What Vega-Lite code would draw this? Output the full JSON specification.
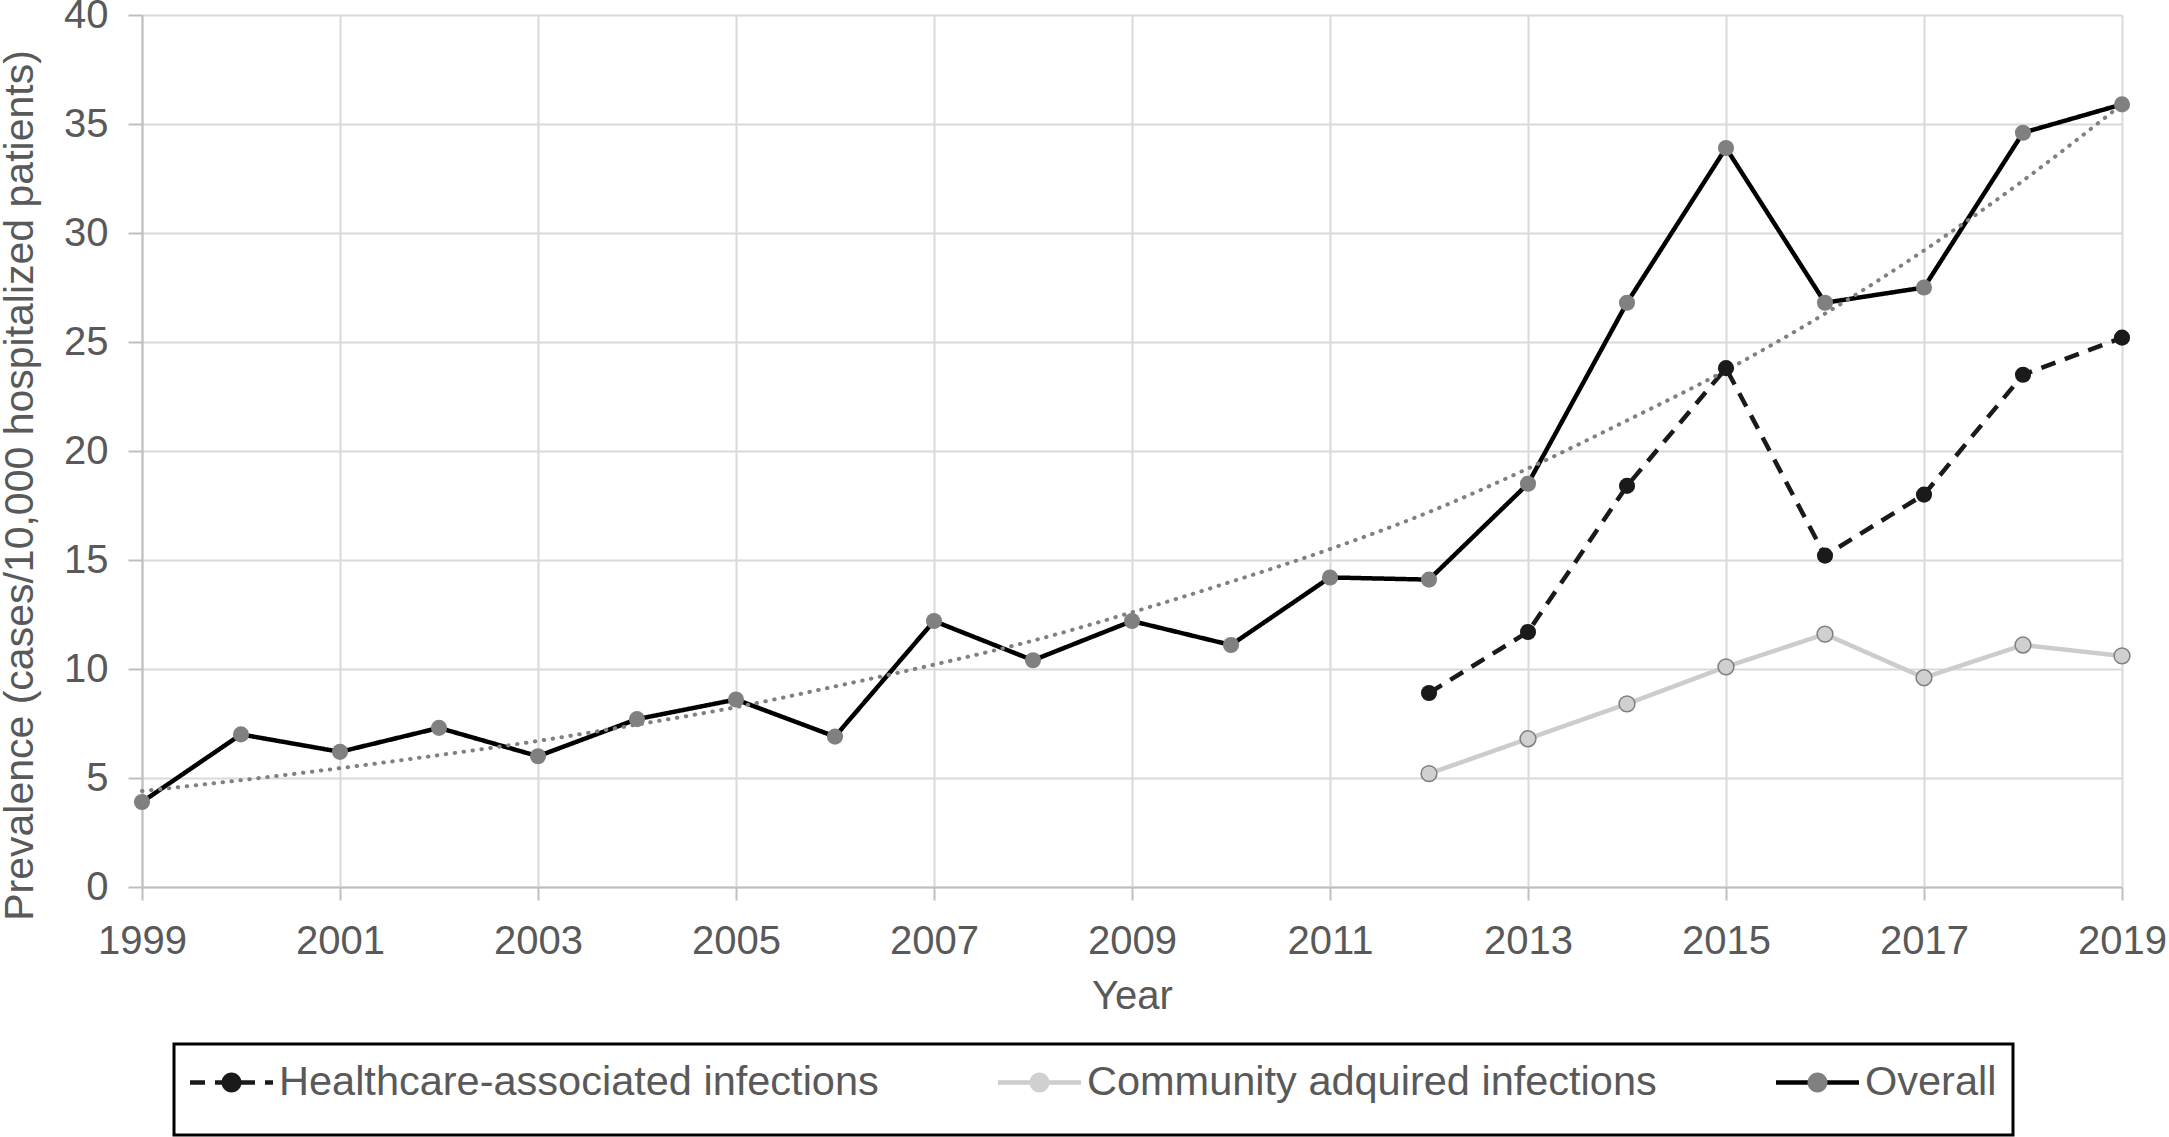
{
  "$schema": "https://vega.github.io/schema/vega-lite/v6.json",
  "width": 1980,
  "height": 872,
  "autosize": {"type": "none"},
  "padding": {"left": 142, "top": 15, "right": 47, "bottom": 250},
  "background": "white",
  "config": {"view": {"stroke": null}, "font": "Liberation Sans", "legend": {"strokeWidth": 3}},
  "datasets": {
    "obs": [
      {"year": 2012, "value": 8.9, "series": "Healthcare-associated infections"},
      {"year": 2013, "value": 11.7, "series": "Healthcare-associated infections"},
      {"year": 2014, "value": 18.4, "series": "Healthcare-associated infections"},
      {"year": 2015, "value": 23.8, "series": "Healthcare-associated infections"},
      {"year": 2016, "value": 15.2, "series": "Healthcare-associated infections"},
      {"year": 2017, "value": 18.0, "series": "Healthcare-associated infections"},
      {"year": 2018, "value": 23.5, "series": "Healthcare-associated infections"},
      {"year": 2019, "value": 25.2, "series": "Healthcare-associated infections"},
      {"year": 2012, "value": 5.2, "series": "Community adquired infections"},
      {"year": 2013, "value": 6.8, "series": "Community adquired infections"},
      {"year": 2014, "value": 8.4, "series": "Community adquired infections"},
      {"year": 2015, "value": 10.1, "series": "Community adquired infections"},
      {"year": 2016, "value": 11.6, "series": "Community adquired infections"},
      {"year": 2017, "value": 9.6, "series": "Community adquired infections"},
      {"year": 2018, "value": 11.1, "series": "Community adquired infections"},
      {"year": 2019, "value": 10.6, "series": "Community adquired infections"},
      {"year": 1999, "value": 3.9, "series": "Overall"},
      {"year": 2000, "value": 7.0, "series": "Overall"},
      {"year": 2001, "value": 6.2, "series": "Overall"},
      {"year": 2002, "value": 7.3, "series": "Overall"},
      {"year": 2003, "value": 6.0, "series": "Overall"},
      {"year": 2004, "value": 7.7, "series": "Overall"},
      {"year": 2005, "value": 8.6, "series": "Overall"},
      {"year": 2006, "value": 6.9, "series": "Overall"},
      {"year": 2007, "value": 12.2, "series": "Overall"},
      {"year": 2008, "value": 10.4, "series": "Overall"},
      {"year": 2009, "value": 12.2, "series": "Overall"},
      {"year": 2010, "value": 11.1, "series": "Overall"},
      {"year": 2011, "value": 14.2, "series": "Overall"},
      {"year": 2012, "value": 14.1, "series": "Overall"},
      {"year": 2013, "value": 18.5, "series": "Overall"},
      {"year": 2014, "value": 26.8, "series": "Overall"},
      {"year": 2015, "value": 33.9, "series": "Overall"},
      {"year": 2016, "value": 26.8, "series": "Overall"},
      {"year": 2017, "value": 27.5, "series": "Overall"},
      {"year": 2018, "value": 34.6, "series": "Overall"},
      {"year": 2019, "value": 35.9, "series": "Overall"}
    ],
    "trend": [
      {"year": 1999, "value": 4.4},
      {"year": 2000, "value": 4.9},
      {"year": 2001, "value": 5.45},
      {"year": 2002, "value": 6.05},
      {"year": 2003, "value": 6.7},
      {"year": 2004, "value": 7.45},
      {"year": 2005, "value": 8.25},
      {"year": 2006, "value": 9.2},
      {"year": 2007, "value": 10.2},
      {"year": 2008, "value": 11.3},
      {"year": 2009, "value": 12.6},
      {"year": 2010, "value": 14.0},
      {"year": 2011, "value": 15.5},
      {"year": 2012, "value": 17.2},
      {"year": 2013, "value": 19.2},
      {"year": 2014, "value": 21.4},
      {"year": 2015, "value": 23.7},
      {"year": 2016, "value": 26.3},
      {"year": 2017, "value": 29.2},
      {"year": 2018, "value": 32.4},
      {"year": 2019, "value": 35.9}
    ]
  },
  "data": {"name": "obs"},
  "encoding": {
    "x": {
      "field": "year",
      "type": "quantitative",
      "scale": {"domain": [1999, 2019], "nice": false, "zero": false},
      "axis": {
        "values": [1999, 2001, 2003, 2005, 2007, 2009, 2011, 2013, 2015, 2017, 2019],
        "format": "d",
        "title": "Year",
        "grid": true,
        "gridColor": "#d9d9d9",
        "gridWidth": 2,
        "domainColor": "#bfbfbf",
        "domainWidth": 2,
        "tickColor": "#bfbfbf",
        "tickWidth": 2,
        "tickSize": 13,
        "labelFont": "Liberation Sans",
        "labelFontSize": 40,
        "labelColor": "#595959",
        "labelBaseline": "alphabetic",
        "labelPadding": 53,
        "labelFlush": false,
        "labelOverlap": false,
        "titleFont": "Liberation Sans",
        "titleFontSize": 40,
        "titleFontWeight": "normal",
        "titleColor": "#595959",
        "titleBaseline": "alphabetic",
        "titleAlign": "center",
        "titleX": 990,
        "titleY": 121
      }
    },
    "y": {
      "field": "value",
      "type": "quantitative",
      "scale": {"domain": [0, 40], "nice": false},
      "axis": {
        "values": [0, 5, 10, 15, 20, 25, 30, 35, 40],
        "title": "Prevalence (cases/10,000 hospitalized patients)",
        "grid": true,
        "gridColor": "#d9d9d9",
        "gridWidth": 2,
        "domainColor": "#bfbfbf",
        "domainWidth": 2,
        "tickColor": "#bfbfbf",
        "tickWidth": 2,
        "tickSize": 14,
        "labelFont": "Liberation Sans",
        "labelFontSize": 40,
        "labelColor": "#595959",
        "labelPadding": 20,
        "labelFlush": false,
        "labelOverlap": false,
        "titleFont": "Liberation Sans",
        "titleFontSize": 41,
        "titleFontWeight": "normal",
        "titleColor": "#595959",
        "titleAngle": 270,
        "titleBaseline": "alphabetic",
        "titleAlign": "center",
        "titleX": -110,
        "titleY": 470
      }
    }
  },
  "layer": [
    {
      "mark": {"type": "line", "strokeWidth": 4.5},
      "encoding": {
        "stroke": {
          "field": "series",
          "type": "nominal",
          "scale": {
            "domain": ["Healthcare-associated infections", "Community adquired infections", "Overall"],
            "range": ["#1a1a1a", "#cccccc", "#000000"]
          },
          "legend": {
            "title": null,
            "orient": "none",
            "legendX": 32,
            "legendY": 1029,
            "direction": "horizontal",
            "symbolType": "M-2.075,0L2.075,0M0,1.375",
            "symbolSize": 1600,
            "symbolOffset": 19,
            "symbolStrokeWidth": 4.5,
            "labelFont": "Liberation Sans",
            "labelFontSize": 41.5,
            "labelColor": "#595959",
            "labelOffset": 25,
            "labelLimit": 2000,
            "columnPadding": 110,
            "padding": 16,
            "strokeColor": "#000000",
            "zindex": 0
          }
        },
        "strokeDash": {
          "field": "series",
          "type": "nominal",
          "scale": {
            "domain": ["Healthcare-associated infections", "Community adquired infections", "Overall"],
            "range": [[15, 10], [1, 0], [1, 0]]
          },
          "legend": {
            "title": null,
            "orient": "none",
            "legendX": 32,
            "legendY": 1029,
            "direction": "horizontal",
            "symbolType": "M-2.075,0L2.075,0M0,1.375",
            "symbolSize": 1600,
            "symbolOffset": 19,
            "symbolStrokeWidth": 4.5,
            "labelFont": "Liberation Sans",
            "labelFontSize": 41.5,
            "labelColor": "#595959",
            "labelOffset": 25,
            "labelLimit": 2000,
            "columnPadding": 110,
            "padding": 16,
            "strokeColor": "#000000",
            "zindex": 0
          }
        }
      }
    },
    {
      "data": {"name": "trend"},
      "mark": {"type": "line", "color": "#808080", "strokeWidth": 4, "strokeDash": [0.5, 8.5], "strokeCap": "round", "interpolate": "monotone"},
      "encoding": {}
    },
    {
      "mark": {"type": "point", "filled": true, "opacity": 1, "size": 260},
      "encoding": {
        "fill": {
          "field": "series",
          "type": "nominal",
          "sort": ["Healthcare-associated infections", "Community adquired infections", "Overall"],
          "scale": {"range": ["#1a1a1a", "#d0d0d0", "#808080"]},
          "legend": {
            "title": null,
            "orient": "none",
            "legendX": 32,
            "legendY": 1029,
            "direction": "horizontal",
            "symbolType": "M-2.075,0M2.075,0M0,1.375M0.5,0A0.5,0.5,0,1,1,-0.5,0A0.5,0.5,0,1,1,0.5,0Z",
            "symbolSize": 1600,
            "symbolOffset": 19,
            "symbolStrokeWidth": 4.5,
            "symbolStrokeColor": "transparent",
            "labelFont": "Liberation Sans",
            "labelFontSize": 41.5,
            "labelColor": "#595959",
            "labelOpacity": 0,
            "labelOffset": 25,
            "labelLimit": 2000,
            "columnPadding": 110,
            "padding": 16,
            "strokeColor": null,
            "zindex": 1
          }
        }
      }
    },
    {
      "transform": [{"filter": "datum.series === 'Community adquired infections'"}],
      "mark": {"type": "point", "filled": false, "opacity": 1, "size": 250, "color": "#7f7f7f", "strokeWidth": 1.5},
      "encoding": {}
    }
  ]
}
